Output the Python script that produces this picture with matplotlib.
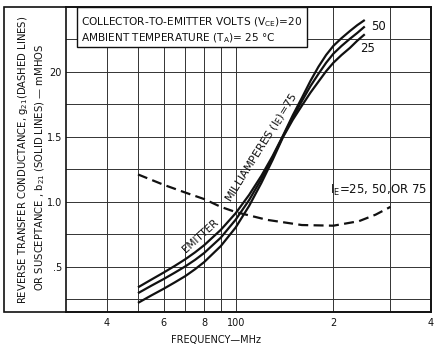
import matplotlib
matplotlib.use("Agg")
import matplotlib.pyplot as plt
from matplotlib.patches import Rectangle
from matplotlib.ticker import NullFormatter

# solid lines: susceptance b21 (mmhos) for the three emitter currents
freq_solid = [50, 55, 60, 65, 70, 75, 80, 90, 100, 110, 120, 130, 140,
              150, 160, 170, 180, 190, 200, 212, 225, 237, 250]
b21_upper = [0.34, 0.40, 0.454, 0.506, 0.557, 0.610, 0.665, 0.783, 0.911, 1.052, 1.199, 1.352, 1.510,
             1.666, 1.80, 1.93, 2.04, 2.13, 2.20, 2.26, 2.315, 2.36, 2.40]
b21_middle = [0.295, 0.353, 0.404, 0.454, 0.502, 0.552, 0.605, 0.723, 0.861, 1.012, 1.174, 1.340, 1.505,
              1.648, 1.775, 1.89, 1.985, 2.07, 2.14, 2.20, 2.255, 2.30, 2.35]
b21_lower = [0.22, 0.278, 0.329, 0.379, 0.427, 0.48, 0.535, 0.658, 0.801, 0.967, 1.144, 1.322, 1.498,
             1.631, 1.74, 1.84, 1.925, 2.005, 2.07, 2.13, 2.185, 2.24, 2.29]

# dashed line: conductance g21 (same for IE = 25, 50 or 75)
freq_dash = [50, 60, 70, 80, 90, 100, 125, 160, 200, 240, 270, 300]
g21 = [1.21, 1.13, 1.07, 1.02, 0.96, 0.92, 0.86, 0.82, 0.815, 0.85, 0.90, 0.96]

x_major = [40, 60, 80, 100, 200, 400]
x_labels = ["4", "6", "8", "100", "2", "4"]
x_minor = [50, 70, 90, 300]
y_major = [0.5, 1.0, 1.5, 2.0]
y_labels = [".5", "1.0", "1.5", "20"]
y_minor = [0.25, 0.75, 1.25, 1.75, 2.25]

W, H = 439, 350
fig = plt.figure(figsize=(W / 100, H / 100), dpi=100)
fig.patch.set_facecolor("white")

# plot area in pixels: left, right, top, bottom
L, R, T, B = 66, 431, 7, 312
ax = fig.add_axes([L / W, 1 - B / H, (R - L) / W, (B - T) / H])

def px(x, y):
    return x / W, 1 - y / H

ink = "#111111"
for vals in (b21_upper, b21_middle, b21_lower):
    ax.plot(freq_solid, vals, color=ink, lw=1.6, solid_capstyle="butt")
ax.plot(freq_dash, g21, color=ink, lw=1.6, dashes=(4.5, 2.4))

ax.set_xscale("log")
ax.set_xlim(30, 400)
ax.set_ylim(0.15, 2.5)
ax.set_xticks(x_major)
ax.set_xticklabels(x_labels)
ax.set_xticks(x_minor, minor=True)
ax.xaxis.set_minor_formatter(NullFormatter())
ax.set_yticks(y_major)
ax.set_yticklabels(y_labels)
ax.set_yticks(y_minor, minor=True)
ax.tick_params(which="both", length=0, labelsize=7, colors=ink)
ax.tick_params(axis="x", pad=4)
ax.tick_params(axis="y", pad=3)
ax.grid(which="both", color="#333333", lw=0.7)
for s in ax.spines.values():
    s.set_linewidth(1.2)
    s.set_color(ink)

# outer frame, it also holds the y label
fig.patches.append(Rectangle(px(4, B), (R - 4) / W, (B - T) / H,
                             transform=fig.transFigure, fill=False,
                             lw=1.2, ec=ink))

# conditions box
x0, x1, yb = 77, 307, 47
ax.add_patch(Rectangle(((x0 - L) / (R - L), 1 - (yb - T) / (B - T)),
                       (x1 - x0) / (R - L), (yb - T) / (B - T),
                       transform=ax.transAxes, fc="white", ec=ink,
                       lw=1.0, zorder=5))
fig.text(*px(81, 22), "COLLECTOR-TO-EMITTER VOLTS (V$_{\\rm CE}$)=20",
         fontsize=7.6, va="center", ha="left", color=ink, zorder=6)
fig.text(*px(81, 38), "AMBIENT TEMPERATURE (T$_{\\rm A}$)= 25 \u00b0C",
         fontsize=7.6, va="center", ha="left", color=ink, zorder=6)

# curve labels
fig.text(*px(379, 26), "50", fontsize=8.5, va="center", ha="center", color=ink)
fig.text(*px(368, 49), "25", fontsize=8.5, va="center", ha="center", color=ink)
fig.text(*px(330, 190), "I$_{\\rm E}$=25, 50,OR 75", fontsize=8.5,
         va="center", ha="left", color=ink)
fig.text(*px(200, 236), "EMITTER", fontsize=7.5, rotation=42,
         va="center", ha="center", color=ink, rotation_mode="anchor")
fig.text(*px(262, 148), "MILLIAMPERES (I$_{\\rm E}$)=75", fontsize=8,
         rotation=58, va="center", ha="center", color=ink,
         rotation_mode="anchor")

# axis titles
fig.text(*px(23, 160), "REVERSE TRANSFER CONDUCTANCE, g$_{21}$(DASHED LINES)",
         fontsize=7.2, rotation=90, va="center", ha="center", color=ink)
fig.text(*px(40, 167), "OR SUSCEPTANCE , b$_{21}$ (SOLID LINES) \u2014 mMHOS",
         fontsize=7.2, rotation=90, va="center", ha="center", color=ink)
fig.text(*px(216, 340), "FREQUENCY\u2014MHz", fontsize=7,
         va="center", ha="center", color=ink)

fig.savefig("out.png", dpi=100)
